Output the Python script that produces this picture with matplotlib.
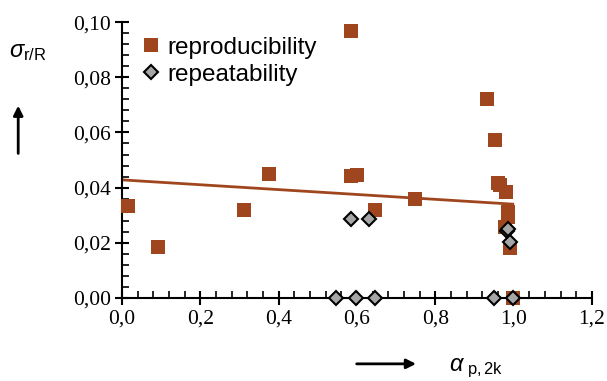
import numpy as np
import matplotlib.pyplot as plt
from matplotlib.ticker import MultipleLocator, FuncFormatter
from matplotlib.font_manager import FontProperties, findfont

plt.rcParams['font.family'] = 'Liberation Serif'
plt.rcParams['mathtext.fontset'] = 'custom'
plt.rcParams['mathtext.rm'] = 'Liberation Sans'
plt.rcParams['mathtext.it'] = 'Liberation Sans:italic'

# reproducibility (sigma_R)
repro_x = [0.016, 0.093, 0.311, 0.375, 0.584, 0.600, 0.646, 0.748, 0.585,
           0.932, 0.953, 0.960, 0.965, 0.982, 0.985, 0.987, 0.979, 0.992, 0.999]
repro_y = [0.0333, 0.0186, 0.0318, 0.0449, 0.0443, 0.0446, 0.0318, 0.0360, 0.0967,
           0.0721, 0.0571, 0.0417, 0.0408, 0.0385, 0.0313, 0.0295, 0.0258, 0.0180, 0.0]

# repeatability (sigma_r)
repeat_x = [0.584, 0.631, 0.547, 0.598, 0.646, 0.950, 0.998, 0.984, 0.986, 0.991]
repeat_y = [0.0286, 0.0286, 0.0, 0.0, 0.0, 0.0, 0.0, 0.0244, 0.0250, 0.0202]

# linear trend of reproducibility
trend_x = [0.0, 0.998]
trend_y = [0.0428, 0.0340]

brown = '#A0461E'

fig = plt.figure(figsize=(6.07, 3.81), dpi=100)
ax = fig.add_axes([0.201, 0.218, 0.774, 0.724])

ax.plot(trend_x, trend_y, color=brown, lw=2, zorder=2)
ax.plot(repro_x, repro_y, 's', color=brown, markersize=9.5, markeredgewidth=0,
        label='reproducibility', zorder=3, clip_on=False)
ax.plot(repeat_x, repeat_y, 'D', color='#A6A6A6', markeredgecolor='black',
        markersize=7.5, markeredgewidth=1.5, label='repeatability', zorder=4, clip_on=False)

ax.set_xlim(0, 1.2)
ax.set_ylim(0, 0.10)
ax.xaxis.set_major_locator(MultipleLocator(0.2))
ax.xaxis.set_minor_locator(MultipleLocator(0.04))
ax.yaxis.set_major_locator(MultipleLocator(0.02))
ax.yaxis.set_minor_locator(MultipleLocator(0.004))
ax.xaxis.set_major_formatter(FuncFormatter(lambda v, p: f'{v:.1f}'.replace('.', ',')))
ax.yaxis.set_major_formatter(FuncFormatter(lambda v, p: f'{v:.2f}'.replace('.', ',')))

for s in ['top', 'right']:
    ax.spines[s].set_visible(False)
for s in ['left', 'bottom']:
    ax.spines[s].set_linewidth(1.5)

ax.tick_params(which='major', direction='inout', length=10, width=1.5, pad=3)
ax.tick_params(which='minor', direction='in', length=5, width=1.2)

ax.legend(loc='upper left', bbox_to_anchor=(0.0, 1.0), frameon=False,
          prop={'family': 'Liberation Sans', 'size': 17.5},
          handletextpad=0.05, borderaxespad=0.2, labelspacing=0.2, handlelength=1.2)

fig.text(0.015, 0.85, r'$\sigma_{\mathrm{r/R}}$', fontsize=17)
fig.text(0.74, 0.025, r'$\alpha_{\mathrm{\ p,2k}}$', fontsize=17)
fig.add_artist(plt.Annotation('', xy=(0.030, 0.73), xytext=(0.030, 0.59),
                              xycoords='figure fraction',
                              arrowprops=dict(arrowstyle='-|>', color='black', lw=2,
                                              mutation_scale=14)))
fig.add_artist(plt.Annotation('', xy=(0.69, 0.045), xytext=(0.583, 0.045),
                              xycoords='figure fraction',
                              arrowprops=dict(arrowstyle='-|>', color='black', lw=2,
                                              mutation_scale=14)))

serif = FontProperties(fname=findfont('Liberation Serif'), size=15.5)
fig.canvas.draw()
for lab in ax.get_xticklabels() + ax.get_yticklabels():
    lab.set_fontproperties(serif)

fig.savefig('out.png', dpi=100)
